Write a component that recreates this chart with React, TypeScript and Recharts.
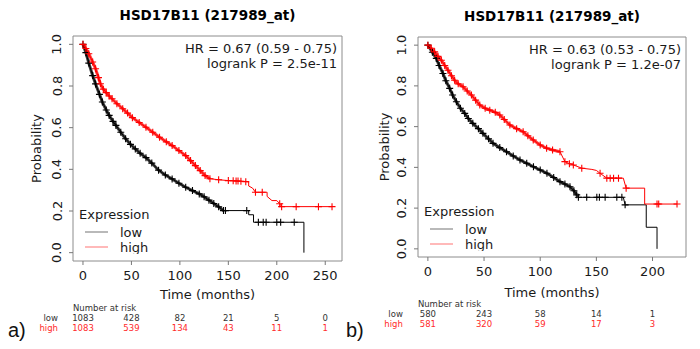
import React from "react";
import { ComposedChart, Line, XAxis, YAxis, ReferenceArea, Legend } from "recharts";

const title = "HSD17B11 (217989_at)";
const groups = ["low", "high"];
const yTicks = [0, 0.2, 0.4, 0.6, 0.8, 1];

// panel a
const ticksA = [0, 50, 100, 150, 200, 250];
const riskLowA = [1083, 428, 82, 21, 5, 0];
const riskHighA = [1083, 539, 134, 43, 11, 1];
const statsA = ["HR = 0.67 (0.59 - 0.75)", "logrank P = 2.5e-11"];

// panel b
const ticksB = [0, 50, 100, 150, 200];
const riskLowB = [580, 243, 58, 14, 1];
const riskHighB = [581, 320, 59, 17, 3];
const statsB = ["HR = 0.63 (0.53 - 0.75)", "logrank P = 1.2e-07"];

// [months, survival, censoring: 0 none, 1 single mark, 2 dense run of marks]
const lowA = [
  [0, 1, 2], [3, 0.96, 2], [6, 0.91, 2], [10, 0.85, 2], [13, 0.81, 2], [17, 0.76, 2],
  [20, 0.723, 2], [24, 0.685, 2], [27, 0.659, 2], [31, 0.63, 2], [34, 0.611, 2],
  [39, 0.578, 2], [44, 0.547, 2], [49, 0.52, 2], [54, 0.498, 2], [59, 0.477, 2],
  [65, 0.456, 2], [71, 0.43, 2], [78, 0.396, 2], [85, 0.373, 2], [92, 0.354, 2],
  [99, 0.333, 2], [106, 0.314, 2], [113, 0.298, 2], [120, 0.282, 2], [125, 0.268, 2],
  [130, 0.252, 2], [135, 0.236, 2], [140, 0.22, 2], [145, 0.202, 2], [147, 0.202, 1],
  [169, 0.202, 1], [171, 0.202, 0], [171, 0.182, 0], [176, 0.182, 0], [176, 0.146, 0],
  [181, 0.146, 1], [186, 0.146, 1], [189, 0.146, 1], [200, 0.146, 1], [204, 0.146, 1],
  [218, 0.146, 1], [228, 0.146, 0], [228, 0, 0],
];
const highA = [
  [0, 1, 2], [3, 0.98, 2], [6, 0.955, 2], [10, 0.915, 2], [13, 0.883, 2], [16, 0.84, 2],
  [18, 0.811, 2], [21, 0.785, 2], [24, 0.768, 2], [27, 0.752, 2], [30, 0.739, 2],
  [35, 0.715, 2], [41, 0.691, 2], [46, 0.67, 2], [51, 0.648, 2], [58, 0.625, 2],
  [65, 0.602, 2], [72, 0.578, 2], [79, 0.554, 2], [86, 0.532, 2], [92, 0.514, 2],
  [99, 0.49, 2], [106, 0.466, 2], [111, 0.442, 2], [116, 0.418, 2], [121, 0.394, 2],
  [126, 0.37, 2], [131, 0.355, 2], [140, 0.35, 1], [150, 0.346, 1], [155, 0.345, 1],
  [158, 0.344, 1], [160, 0.344, 1], [163, 0.343, 1], [168, 0.341, 1], [171, 0.34, 0],
  [171, 0.32, 0], [175, 0.31, 0], [178, 0.29, 1], [185, 0.29, 1], [190, 0.29, 0],
  [190, 0.27, 0], [195, 0.25, 0], [200, 0.25, 0], [203, 0.235, 1], [205, 0.221, 1],
  [220, 0.221, 1], [243, 0.221, 1], [257, 0.221, 1],
];
const lowB = [
  [0, 1, 2], [4, 0.965, 2], [7.5, 0.935, 2], [10, 0.9, 2], [13.4, 0.861, 2], [16, 0.825, 2],
  [19.4, 0.788, 2], [22, 0.755, 2], [25.4, 0.722, 2], [29, 0.69, 2], [32.8, 0.665, 2],
  [36, 0.64, 2], [40, 0.616, 2], [45, 0.59, 2], [49, 0.567, 2], [54, 0.54, 2],
  [58, 0.518, 2], [64, 0.497, 2], [70, 0.477, 2], [76, 0.456, 2], [82, 0.436, 2],
  [88, 0.42, 2], [94, 0.403, 2], [100, 0.387, 2], [106, 0.371, 2], [112, 0.35, 2],
  [117.6, 0.33, 2], [122, 0.318, 2], [126.5, 0.305, 2], [130, 0.285, 2], [132.5, 0.265, 2],
  [134, 0.253, 1], [141.4, 0.253, 1], [150.4, 0.253, 1], [152.7, 0.253, 1], [157.8, 0.253, 1],
  [168.2, 0.253, 1], [172.7, 0.253, 1], [174, 0.253, 0], [175.6, 0.216, 1], [194.4, 0.216, 0],
  [194.4, 0.106, 0], [204, 0.106, 0], [204, 0, 0],
];
const highB = [
  [0, 1, 2], [3, 0.985, 2], [6, 0.967, 2], [9, 0.945, 2], [12, 0.926, 2], [15, 0.9, 2],
  [17.9, 0.877, 2], [21, 0.85, 2], [23.8, 0.828, 2], [27, 0.81, 2], [31.3, 0.796, 2],
  [35, 0.775, 2], [38.8, 0.755, 2], [42.5, 0.73, 2], [46.2, 0.706, 2], [51, 0.69, 2],
  [55.1, 0.681, 2], [60, 0.67, 2], [64, 0.657, 2], [68, 0.635, 2], [73, 0.608, 2],
  [79, 0.59, 2], [84.8, 0.575, 2], [89, 0.555, 2], [93.8, 0.534, 2], [100, 0.51, 2],
  [105.7, 0.494, 2], [111, 0.485, 2], [117.6, 0.477, 2], [122, 0.428, 1], [126, 0.418, 1],
  [129.5, 0.412, 1], [137, 0.396, 1], [146, 0.39, 0], [150, 0.385, 0], [153.3, 0.371, 1],
  [159.3, 0.347, 1], [162.3, 0.347, 1], [165.3, 0.347, 1], [169.7, 0.347, 1], [174, 0.347, 0],
  [176.5, 0.298, 1], [193, 0.298, 0], [193, 0.22, 0], [204, 0.22, 1], [205.5, 0.22, 1],
  [221.8, 0.22, 1],
];

const LOW = "#000000";
const HIGH = "#ff0000";
const TEXT = "#1a1a1a";
const RISK_LOW = "#333333";
const RISK_HIGH = "#ff2a2a";

const toRows = (pts: number[][]) => pts.map(([t, s, c]) => ({ t, s, c }));
const denseOnly = (d: any) => (d.c === 2 ? d.s : null);

const censorDot = (color: string) => (p: any) => {
  const key = `d-${p.index}`;
  if (!p.payload || !p.payload.c) return <g key={key} />;
  const { cx, cy } = p;
  return (
    <path
      key={key}
      d={`M${cx - 3.5},${cy}h7M${cx},${cy - 3.5}v7`}
      stroke={color}
      strokeWidth={1.1}
      fill="none"
    />
  );
};

const YTick = (p: any) => {
  const cx = p.x - 10;
  return (
    <text
      x={cx}
      y={p.y}
      transform={`rotate(-90, ${cx}, ${p.y})`}
      textAnchor="middle"
      dominantBaseline="central"
      fontSize={13}
      fill={TEXT}
    >
      {Number(p.payload.value).toFixed(1)}
    </text>
  );
};

// x tick label plus the number-at-risk rows under it
const timeTick = (ticks: number[], riskLow: number[], riskHigh: number[]) => (p: any) => {
  const i = ticks.indexOf(p.payload.value);
  const rs = 8.5;
  return (
    <g key={`x-${i}`}>
      <text x={p.x} y={p.y + 10} textAnchor="middle" dominantBaseline="central" fontSize={13} fill={TEXT}>
        {p.payload.value}
      </text>
      {i === 0 && (
        <>
          <text x={p.x - 10} y={p.y + 43} fontSize={rs} fill={RISK_LOW} dominantBaseline="central">
            Number at risk
          </text>
          <text x={p.x - 25} y={p.y + 53} fontSize={rs} fill={RISK_LOW} textAnchor="end" dominantBaseline="central">
            {groups[0]}
          </text>
          <text x={p.x - 25} y={p.y + 63} fontSize={rs} fill={RISK_HIGH} textAnchor="end" dominantBaseline="central">
            {groups[1]}
          </text>
        </>
      )}
      <text x={p.x} y={p.y + 53} fontSize={rs} fill={RISK_LOW} textAnchor="middle" dominantBaseline="central">
        {riskLow[i]}
      </text>
      <text x={p.x} y={p.y + 63} fontSize={rs} fill={RISK_HIGH} textAnchor="middle" dominantBaseline="central">
        {riskHigh[i]}
      </text>
    </g>
  );
};

const LegendBox = ({ payload }: any) => {
  const items = (payload || [])
    .filter((it: any) => groups.includes(it.value))
    .sort((a: any, b: any) => groups.indexOf(a.value) - groups.indexOf(b.value));
  return (
    <svg width={110} height={50} style={{ display: "block" }}>
      <text x={3} y={10} fontSize={13} fill={TEXT} dominantBaseline="central">
        Expression
      </text>
      {items.map((item: any, i: number) => (
        <g key={item.value}>
          <line
            x1={9}
            x2={32}
            y1={28 + i * 15}
            y2={28 + i * 15}
            stroke={item.color}
            strokeOpacity={0.55}
            strokeWidth={1}
          />
          <text x={44} y={28 + i * 15} fontSize={13} fill={TEXT} dominantBaseline="central">
            {item.value}
          </text>
        </g>
      ))}
    </svg>
  );
};

type PanelProps = {
  left: number;
  top: number;
  right: number;
  axisHeight: number;
  yWidth: number;
  xDomain: [number, number];
  ticks: number[];
  riskLow: number[];
  riskHigh: number[];
  stats: string[];
  low: number[][];
  high: number[][];
  labelOffset: number;
  legendPos: { left: number; top: number };
};

const Panel = (props: PanelProps) => {
  const { xDomain, ticks } = props;
  const lowRows = toRows(props.low);
  const highRows = toRows(props.high);
  const annotations = (lp: any) => {
    const vb = lp.viewBox;
    return (
      <g>
        <text
          x={vb.x + vb.width / 2}
          y={vb.y - 21}
          textAnchor="middle"
          dominantBaseline="central"
          fontSize={13.5}
          fontWeight="bold"
          fill="#000"
        >
          {title}
        </text>
        {props.stats.map((s, i) => (
          <text
            key={s}
            x={vb.x + vb.width - 5}
            y={vb.y + 12 + i * 15.5}
            textAnchor="end"
            dominantBaseline="central"
            fontSize={13}
            fill={TEXT}
          >
            {s}
          </text>
        ))}
      </g>
    );
  };

  return (
    <div style={{ position: "absolute", left: props.left, top: 0 }}>
      <ComposedChart
        width={350}
        height={349}
        margin={{ top: props.top, right: props.right, left: 0, bottom: 0 }}
      >
        <XAxis
          dataKey="t"
          type="number"
          domain={xDomain}
          allowDataOverflow
          ticks={ticks}
          interval={0}
          height={props.axisHeight}
          axisLine={false}
          tickSize={4}
          tickMargin={0}
          tickLine={{ stroke: "#777" }}
          tick={timeTick(ticks, props.riskLow, props.riskHigh)}
          label={{ value: "Time (months)", position: "insideBottom", offset: props.labelOffset, fill: TEXT, fontSize: 13 }}
        />
        <YAxis
          type="number"
          domain={[-0.04, 1.04]}
          allowDataOverflow
          ticks={yTicks}
          interval={0}
          width={props.yWidth}
          axisLine={false}
          tickSize={4}
          tickLine={{ stroke: "#777" }}
          tick={YTick}
          label={{ value: "Probability", angle: -90, position: "center", fill: TEXT, fontSize: 13 }}
        />
        <ReferenceArea
          x1={xDomain[0]}
          x2={xDomain[1]}
          y1={-0.04}
          y2={1.04}
          fill="none"
          fillOpacity={0}
          stroke="#8c8c8c"
          strokeWidth={1}
          label={annotations}
        />
        {/* heavy stretch where censor marks pile up */}
        <Line
          data={lowRows}
          dataKey={denseOnly}
          type="linear"
          stroke={LOW}
          strokeOpacity={0.75}
          strokeWidth={3}
          dot={false}
          activeDot={false}
          legendType="none"
          isAnimationActive={false}
        />
        <Line
          data={highRows}
          dataKey={denseOnly}
          type="linear"
          stroke={HIGH}
          strokeOpacity={0.75}
          strokeWidth={3}
          dot={false}
          activeDot={false}
          legendType="none"
          isAnimationActive={false}
        />
        <Line
          name="low"
          data={lowRows}
          dataKey="s"
          type="linear"
          stroke={LOW}
          strokeWidth={1}
          dot={censorDot(LOW)}
          activeDot={false}
          isAnimationActive={false}
        />
        <Line
          name="high"
          data={highRows}
          dataKey="s"
          type="linear"
          stroke={HIGH}
          strokeWidth={1}
          dot={censorDot(HIGH)}
          activeDot={false}
          isAnimationActive={false}
        />
        <Legend
          layout="horizontal"
          verticalAlign="middle"
          align="center"
          wrapperStyle={{ left: props.legendPos.left, top: props.legendPos.top, width: 110, height: 50 }}
          content={(lp: any) => <LegendBox payload={lp.payload} />}
        />
      </ComposedChart>
    </div>
  );
};

const tagStyle: React.CSSProperties = {
  position: "absolute",
  top: 319,
  fontFamily: "'Liberation Sans', Arial, sans-serif",
  fontSize: 20,
  lineHeight: "22px",
  color: "#111",
};

export default function App() {
  return (
    <div
      style={{
        position: "absolute",
        left: 0,
        top: 0,
        width: 700,
        height: 349,
        background: "#fff",
        overflow: "hidden",
        fontFamily: "'DejaVu Sans', sans-serif",
      }}
    >
      <Panel
        left={0}
        top={36}
        right={8}
        axisHeight={88}
        yWidth={73}
        xDomain={[-10.3, 267.3]}
        ticks={ticksA}
        riskLow={riskLowA}
        riskHigh={riskHighA}
        stats={statsA}
        low={lowA}
        high={highA}
        labelOffset={50}
        legendPos={{ left: 76, top: 204 }}
      />
      <Panel
        left={350}
        top={37}
        right={14}
        axisHeight={92}
        yWidth={68}
        xDomain={[-8.8, 229.8]}
        ticks={ticksB}
        riskLow={riskLowB}
        riskHigh={riskHighB}
        stats={statsB}
        low={lowB}
        high={highB}
        labelOffset={52}
        legendPos={{ left: 71, top: 201 }}
      />
      <div style={{ ...tagStyle, left: 8 }}>a)</div>
      <div style={{ ...tagStyle, left: 346 }}>b)</div>
    </div>
  );
}
